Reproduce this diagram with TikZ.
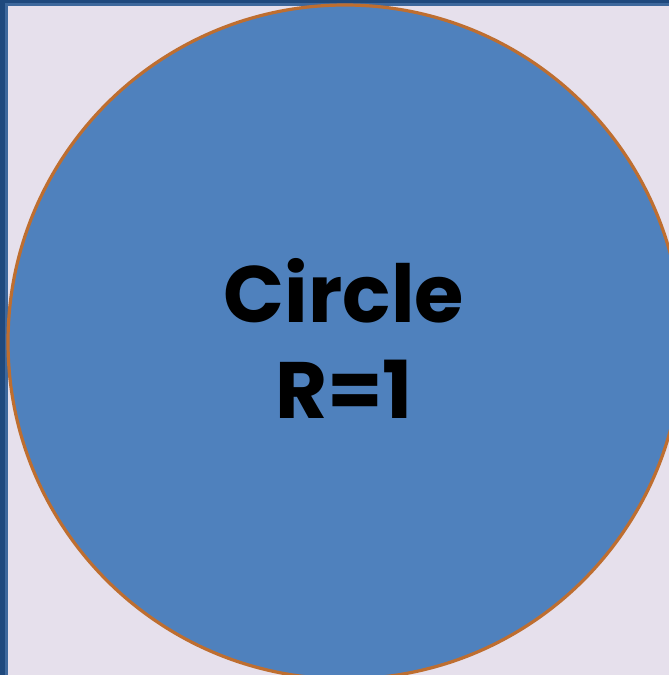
\documentclass[tikz,border=0pt]{standalone}
\usepackage{fontspec}
\setmainfont{Poppins}
\usetikzlibrary{positioning}
\definecolor{paper}{RGB}{230,224,236}
\definecolor{framedark}{RGB}{31,73,125}
\definecolor{framelight}{RGB}{62,104,156}
\definecolor{discfill}{RGB}{79,129,189}
\definecolor{discrim}{RGB}{190,110,48}

\begin{document}
\begin{tikzpicture}[
    x=1pt, y=-1pt,
    disc/.style={circle,draw=discrim,fill=discfill,line width=3.2pt,minimum size=674pt,inner sep=0pt},
    caption/.style={align=center,font=\fontsize{80}{96}\selectfont\bfseries,text=black}
    ]
    % Page and frame
    \useasboundingbox (0,0) rectangle (669,675);
    \fill[paper] (0,0) rectangle (669,675);
    \fill[framedark] (0,0) rectangle (5,675);
    \fill[framedark] (0,0) rectangle (669,3);
    \fill[framelight] (5,3) rectangle (8,675);
    \fill[framelight] (5,3) rectangle (669,6);
    \clip (0,0) rectangle (669,675);

    % Nodes
    \node[disc] (ring) at (345,342) {};
    \node[caption] (label) at (344,338) {Circle\\R=1};
\end{tikzpicture}
\end{document}
